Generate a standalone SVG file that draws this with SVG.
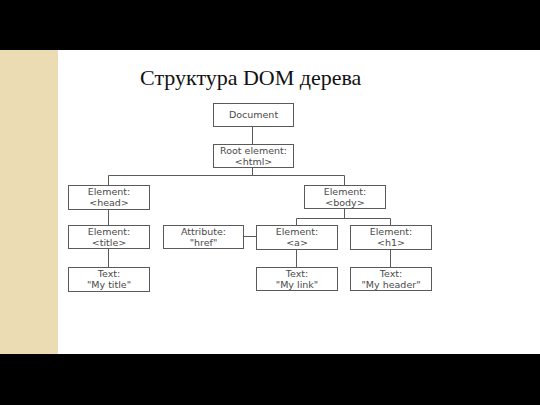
<svg xmlns="http://www.w3.org/2000/svg" width="540" height="405" viewBox="0 0 540 405">
<style>
.bg{fill:#ffffff}
.bar{fill:#000000}
.strip{fill:#ecdcb3}
.box{fill:#ffffff;stroke:#5a5a5a;stroke-width:1}
.t{font-family:"DejaVu Sans",Verdana,sans-serif;font-size:9.5px;fill:#4a4a4a;text-anchor:middle}
.title{font-family:"Liberation Serif","Times New Roman",serif;font-size:22px;fill:#111111}
.ln{stroke:#5a5a5a;stroke-width:1;fill:none}
</style>
<rect class="bg" x="0" y="0" width="540" height="405"/>
<rect class="strip" x="0" y="50" width="58" height="304"/>
<rect class="bar" x="0" y="0" width="540" height="50"/>
<rect class="bar" x="0" y="354" width="540" height="51"/>
<text class="title" x="140" y="85">Структура DOM дерева</text>
<g id="connectors">
<path class="ln" d="M252.5 126.5V144.5"/>
<path class="ln" d="M252.5 167.5V175.5M108.5 175.5H344.5M108.5 175.5V185.5M344.5 175.5V185.5"/>
<path class="ln" d="M108.5 209.5V225.5M108.5 248.5V267.5"/>
<path class="ln" d="M344.5 208.5V218.5M296.5 218.5H390.5M296.5 218.5V225.5M390.5 218.5V225.5"/>
<path class="ln" d="M243.5 236.5H256.5"/>
<path class="ln" d="M296.5 249.5V267.5M390.5 249.5V267.5"/>
</g>
<g id="document"><rect class="box" x="213.5" y="103.5" width="80" height="23"/><text class="t" x="253.5" y="117.5">Document</text></g>
<g id="root"><rect class="box" x="213.5" y="144.5" width="80" height="23"/><text class="t" x="253.5" y="154">Root element:</text><text class="t" x="253.5" y="164.5">&lt;html&gt;</text></g>
<g id="head"><rect class="box" x="68.5" y="185.5" width="81" height="24"/><text class="t" x="109" y="195">Element:</text><text class="t" x="109" y="206">&lt;head&gt;</text></g>
<g id="body"><rect class="box" x="304.5" y="185.5" width="81" height="23"/><text class="t" x="345" y="195">Element:</text><text class="t" x="345" y="205.5">&lt;body&gt;</text></g>
<g id="title-el"><rect class="box" x="68.5" y="225.5" width="81" height="23"/><text class="t" x="109" y="235">Element:</text><text class="t" x="109" y="245.5">&lt;title&gt;</text></g>
<g id="attr"><rect class="box" x="163.5" y="225.5" width="80" height="23"/><text class="t" x="203.5" y="235">Attribute:</text><text class="t" x="203.5" y="245.5">"href"</text></g>
<g id="a-el"><rect class="box" x="256.5" y="225.5" width="81" height="24"/><text class="t" x="297" y="235">Element:</text><text class="t" x="297" y="246">&lt;a&gt;</text></g>
<g id="h1-el"><rect class="box" x="350.5" y="225.5" width="81" height="24"/><text class="t" x="391" y="235">Element:</text><text class="t" x="391" y="246">&lt;h1&gt;</text></g>
<g id="text-title"><rect class="box" x="68.5" y="267.5" width="81" height="24"/><text class="t" x="109" y="277">Text:</text><text class="t" x="109" y="288">"My title"</text></g>
<g id="text-link"><rect class="box" x="256.5" y="267.5" width="81" height="23"/><text class="t" x="297" y="277">Text:</text><text class="t" x="297" y="287.5">"My link"</text></g>
<g id="text-header"><rect class="box" x="350.5" y="267.5" width="81" height="23"/><text class="t" x="391" y="277">Text:</text><text class="t" x="391" y="287.5">"My header"</text></g>
</svg>
